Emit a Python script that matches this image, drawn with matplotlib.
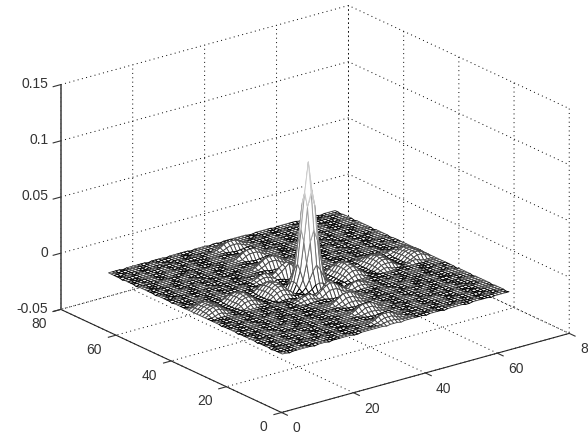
import numpy as np
import matplotlib
matplotlib.use("Agg")
import matplotlib.pyplot as plt
from mpl_toolkits.mplot3d import Axes3D

x_ticks = [0, 20, 40, 60, 80]
y_ticks = [0, 20, 40, 60, 80]
z_ticks = [-0.05, 0, 0.05, 0.1, 0.15]
z_tick_labels = ["-0.05", "0", "0.05", "0.1", "0.15"]

# surface, one char per cell, unit z_unit
# '.' is 0, digits/letters base 36, - = # are -1 -2 -4
z_unit = 0.0007
z_rows = [
    "..-......-...-......--....." + "..-...-..." + "...-....-.....--.....-.....",
    "...-....-.....--.....-....." + "..12221..." + ".-.....--......-...-......-",
    ".-.....--......-...-......-" + ".1355531.." + "....-......-....-......-...",
    "....-......-....-......-..." + "136888631." + "-......-.....-.....--......",
    "-......-.....-.....--......" + ".1355531.." + "..--.....-......-.....-....",
    "..--.....-......-.....-...." + "..--=--..." + "..-......-...-......--.....",
    "..-......-...-......--....." + ".-==#==-.." + ".-.....--......-...-......-",
    ".-.....--......-...-......-" + "..--=--..." + "...-....-.....--.....-.....",
    "...-....-.....--.....-....." + "..12221..." + "-......-.....-.....--......",
    "-......-.....-.....--......" + ".1366631.." + "....-......-....-......-...",
    "....-......-....-......-..." + "147999741." + "..--.....-......-.....-....",
    "..--.....-......-.....-...." + ".1466641.." + "..-......-...-......--.....",
    "..-......-...-......--....." + "..--=--..." + "...-....-.....--.....-.....",
    "...-....-.....--.....-....." + ".-==#==-.." + ".-.....--......-...-......-",
    ".-.....--......-...-......-" + "..--=--..." + "....-......-....-......-...",
    "....-......-....-......-..." + "..13331..." + "-......-.....-.....--......",
    "-......-.....-.....--......" + ".2477742.." + "..--.....-......-.....-....",
    "..--.....-......-.....-...." + "258bbb852." + "..-......-...-......--.....",
    "..-......-...-......--....." + ".2477742.." + "...-....-.....--.....-.....",
    "...-....-.....--.....-....." + "..-===-..." + ".-.....--......-...-......-",
    ".-.....--......-...-......-" + ".==###==.." + "....-......-....-......-...",
    "....-......-....-......-..." + "..-===-..." + "-......-.....-.....--......",
    "-......-.....-.....--.12331" + ".1477741.." + "1332...-......-.....-....-.",
    "..--.....-......-.....24675" + "259cec952." + "57642.....-...-......--....",
    "..-......-...-......-.13442" + ".36aea63.." + "2441...-.....--.....-......",
    "...-....-.....--.....-.--==" + ".-=###=-.." + "=-.-.....--......-...-.....",
    ".-.....--......-...-...-=##" + "-=#####=-." + "#=--....-......-......-....",
    "..1331..-.-1331..-.-2442.--" + "-.......-." + "--.2442.-.-1331.-..1331...",
    ".246642.-.256652.-.368863-=" + "-.......-." + "=-368863.-.256652.-.246642.",
    ".368863-=-379973-=-48bb83-#" + "-.......-." + "#-38bb84-=-379973-=-368863.",
    ".368863-=-37aa73-=-49cc93-#" + "-.......-." + "#-39cc94-=-37aa73-=-368863.",
    ".478874-=-38bb83-=-59dd95-#" + "-.......-." + "#-49dd95-=-38bb83-=-478874.",
    ".368863-=-37aa73-=-49cc93-#" + "-.......-." + "#-39cc94-=-37aa73-=-368863.",
    ".368863-=-379973-=-48bb83-#" + "-.......-." + "#-38bb84-=-379973-=-368863.",
    ".246642.-.256652.-.368863-=" + "-.......-." + "=-368863.-.256652.-.246642.",
    "..1331..-.-1331..-.-2442.--" + "-.......-." + "--.2442.-.-1331.-..1331...",
    ".-.....--......-...-...-=##" + "-=#####=-." + "#=--....-......-......-....",
    "...-....-.....--.....-.--==" + ".-=###=-.." + "=-.-.....--......-...-.....",
    "..-......-...-......-.13442" + ".36aea63.." + "2441...-.....--.....-......",
    "..--.....-......-.....24675" + "259cec952." + "5764.....-...-......--.....",
    "-......-.....-.....--.12331" + ".1477741.." + "1332...-......-.....-....-.",
    "....-......-....-......-..." + "..-===-..." + "-......-.....-.....--......",
    ".-.....--......-...-......-" + ".==###==.." + "....-......-....-......-...",
    "...-....-.....--.....-....." + "..-===-..." + ".-.....--......-...-......-",
    "..-......-...-......--....." + ".2477742.." + "...-....-.....--.....-.....",
    "..--.....-......-.....-...." + "258bbb852." + "..-......-...-......--.....",
    "-......-.....-.....--......" + ".2477742.." + "..--.....-......-.....-....",
    "....-......-....-......-..." + "..13331..." + "-......-.....-.....--......",
    ".-.....--......-...-......-" + "..--=--..." + "....-......-....-......-...",
    "...-....-.....--.....-....." + ".-==#==-.." + ".-.....--......-...-......-",
    "..-......-...-......--....." + "..--=--..." + "...-....-.....--.....-.....",
    "..--.....-......-.....-...." + ".1466641.." + "..-......-...-......--.....",
    "....-......-....-......-..." + "147999741." + "..--.....-......-.....-....",
    "-......-.....-.....--......" + ".1366631.." + "....-......-....-......-...",
    "...-....-.....--.....-....." + "..12221..." + "-......-.....-.....--......",
    ".-.....--......-...-......-" + "..--=--..." + "...-....-.....--.....-.....",
    "..-......-...-......--....." + ".-==#==-.." + ".-.....--......-...-......-",
    "..--.....-......-.....-...." + "..--=--..." + "..-......-...-......--.....",
    "-......-.....-.....--......" + ".1355531.." + "..--.....-......-.....-....",
    "....-......-....-......-..." + "136888631." + "-......-.....-.....--......",
    ".-.....--......-...-......-" + ".1355531.." + "....-......-....-......-...",
    "...-....-.....--.....-....." + "..12221..." + ".-.....--......-...-......-",
    "..-......-...-......--....." + "..-...-..." + "...-....-.....--.....-.....",
    "....-......-....-......-..." + ".-..-....." + "..--.....-......-.....-....",
]

# the spike, rows and columns 28..36
peak_z = [
    [-0.002, -0.001, 0.001, 0.004, 0.005, 0.004, 0.001, -0.001, -0.002],
    [-0.001, 0.002, 0.008, 0.015, 0.020, 0.015, 0.008, 0.002, -0.001],
    [0.001, 0.008, 0.022, 0.040, 0.050, 0.040, 0.022, 0.008, 0.001],
    [0.004, 0.015, 0.040, 0.070, 0.082, 0.070, 0.040, 0.015, 0.004],
    [0.005, 0.020, 0.050, 0.082, 0.108, 0.082, 0.050, 0.020, 0.005],
    [0.004, 0.015, 0.040, 0.070, 0.082, 0.070, 0.040, 0.015, 0.004],
    [0.001, 0.008, 0.022, 0.040, 0.050, 0.040, 0.022, 0.008, 0.001],
    [-0.001, 0.002, 0.008, 0.015, 0.020, 0.015, 0.008, 0.002, -0.001],
    [-0.002, -0.001, 0.001, 0.004, 0.005, 0.004, 0.001, -0.001, -0.002],
]

special = {".": 0, "-": -1, "=": -2, "#": -4}


def decode(row):
    row = row.ljust(64, ".")[:64]
    return [special[c] * z_unit if c in special else int(c, 36) * z_unit for c in row]


Z = np.array([decode(r) for r in z_rows])
Z[27:36, 27:36] = peak_z
X, Y = np.meshgrid(np.arange(1, 65), np.arange(1, 65))

plt.rcParams["font.family"] = ["Liberation Sans", "DejaVu Sans"]
plt.rcParams["font.size"] = 10

fig = plt.figure(figsize=(5.88, 4.32), dpi=100)
S = 550.0
ax = fig.add_axes([(315 - 0.5135 * S) / 588, (223 - 0.5135 * S) / 432, S / 588, S / 432],
                  projection="3d", proj_type="ortho")
ax.patch.set_visible(False)
ax.set_box_aspect((1, 1, 0.664))
ax.view_init(elev=21, azim=-127.5)

# mesh: white faces, edge colour from height, dips go black
face_z = (Z[:-1, :-1] + Z[1:, :-1] + Z[:-1, 1:] + Z[1:, 1:]) / 4
gray_level = np.interp(face_z, [-0.00015, 0, 0.02, 0.108], [0.0, 0.27, 0.35, 0.95])
edge_cols = plt.cm.gray(gray_level).reshape(-1, 4)
surf = ax.plot_surface(X, Y, Z, rstride=1, cstride=1, color="white", shade=False,
                       linewidth=0.65, antialiased=True)
surf.set_edgecolor(edge_cols)

ax.set_xlim(0, 80, view_margin=0)
ax.set_ylim(0, 80, view_margin=0)
ax.set_zlim(-0.05, 0.15, view_margin=0)
ax.set_xticks(x_ticks)
ax.set_yticks(y_ticks)
ax.set_zticks(z_ticks)
ax.set_zticklabels(z_tick_labels)

for axis in (ax.xaxis, ax.yaxis, ax.zaxis):
    axis.set_pane_color((1, 1, 1, 0))
    axis.pane.set_edgecolor((1, 1, 1, 0))
    axis._axinfo["grid"].update(color="black", linestyle=(0, (1, 3.5)), linewidth=0.7)
    axis._axinfo["tick"].update(inward_factor=0.33, outward_factor=0.0)
    axis.line.set_color("#262626")
    axis.line.set_linewidth(0.8)
ax.zaxis.line.set_color("#595959")
ax.zaxis.line.set_linewidth(1.3)

ax.tick_params(axis="x", pad=2, colors="#333333", width=0.7)
ax.tick_params(axis="y", pad=2, colors="#333333", width=0.7)
ax.tick_params(axis="z", pad=-3, colors="#333333", width=0.7)
for lab in ax.get_xticklabels():
    lab.set_ha("left")
    lab.set_va("center")
for lab in ax.get_yticklabels():
    lab.set_ha("right")
    lab.set_va("center")
for lab in ax.get_zticklabels():
    lab.set_ha("right")
    lab.set_va("center")

fig.savefig("out.png", dpi=100)
